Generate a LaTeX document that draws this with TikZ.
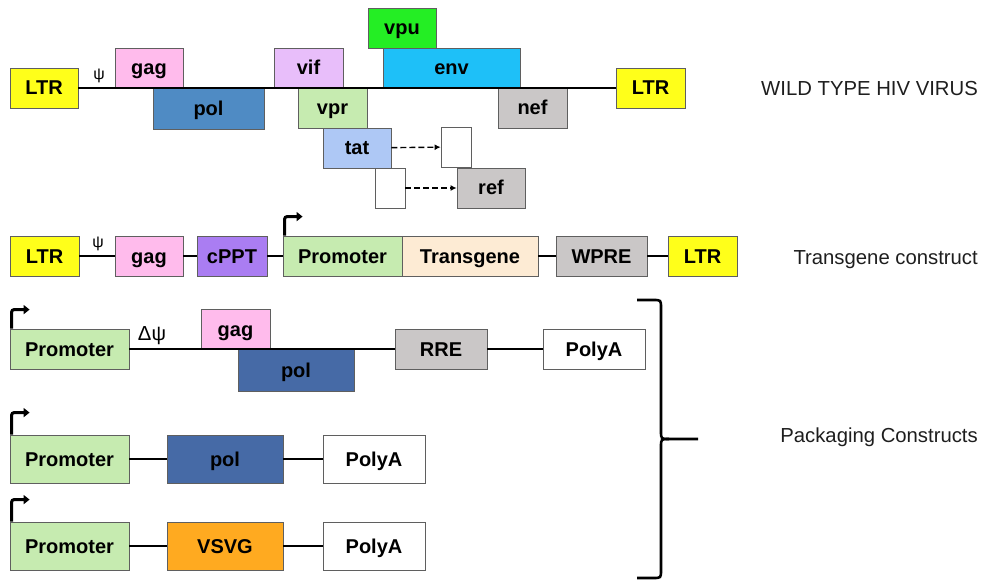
\documentclass[tikz,border=0pt]{standalone}
\usepackage{fontspec}
\setmainfont{Liberation Sans}
\usepackage{pgf,tikz}
\usetikzlibrary{arrows.meta}

\definecolor{ltryellow}{RGB}{255,255,26}
\definecolor{gagpink}{RGB}{255,187,236}
\definecolor{polblue}{RGB}{79,139,196}
\definecolor{poldark}{RGB}{70,106,166}
\definecolor{vifpurple}{RGB}{232,190,250}
\definecolor{lightgreen}{RGB}{198,235,176}
\definecolor{vpugreen}{RGB}{36,238,36}
\definecolor{envcyan}{RGB}{30,192,248}
\definecolor{greybox}{RGB}{202,199,199}
\definecolor{tatblue}{RGB}{174,200,245}
\definecolor{cpptpurple}{RGB}{170,125,242}
\definecolor{peach}{RGB}{253,235,212}
\definecolor{vsvgorange}{RGB}{255,170,32}
\definecolor{boxedge}{RGB}{95,95,95}
\definecolor{labgrey}{RGB}{30,30,30}

\newcommand{\boxfont}{\fontsize{20}{22}\selectfont\bfseries}
\newcommand{\labfont}{\fontsize{20.3}{22}\selectfont}

\begin{document}
\begin{tikzpicture}[x = 1pt, y = -1pt, anno/.style = {line width = 1.4pt, dash pattern = on 6pt off 3pt, -{Latex[length = 6pt, width = 6pt]}}]
    \useasboundingbox (0,0) rectangle (988,580);
    \tikzstyle{g}=[draw=boxedge,line width=.8pt,minimum width=68pt,minimum height=40pt,inner sep=0pt,text height=14pt,text depth=0pt,text=black,font=\boxfont]
    \tikzstyle{bb}=[line width=2.6pt,black]
    \tikzstyle{pr}=[line width=3pt,rounded corners=2.5pt,-{Triangle[length=6pt,width=9pt]}]
    \tikzstyle{lab}=[anchor=east,inner sep=0pt,text=labgrey,font=\labfont]

    % wild type virus
    \node[g,fill=ltryellow] (ltr1) at (44,88) {LTR};
    \node[g,fill=ltryellow,minimum width=69pt] (ltr2) at (650.5,88) {LTR};
    \node[g,fill=gagpink] (gag1) at (149,68) {gag};
    \node[g,fill=polblue,minimum width=111pt,minimum height=41pt] (pol1) at (208.5,108.5) {pol};
    \node[g,fill=vifpurple,minimum width=69pt] (vif) at (308.5,68) {vif};
    \node[g,fill=lightgreen,minimum width=69pt] (vpr) at (332.5,108) {vpr};
    \node[g,fill=vpugreen] (vpu) at (402,28) {vpu};
    \node[g,fill=envcyan,minimum width=137pt] (env) at (451.5,68) {env};
    \node[g,fill=greybox,minimum width=69pt] (nef) at (532.5,108) {nef};
    \node[g,fill=tatblue] (tat) at (357,148) {tat};
    \node[g,fill=white,minimum width=30pt] (tat') at (456,147) {};
    \node[g,fill=white,minimum width=30pt] (ref') at (390,188) {};
    \node[g,fill=greybox] (ref) at (491,188) {ref};
    \node[inner sep=0pt,font=\fontsize{16}{16}\selectfont] (psi1) at (99,76) {ψ};

    \draw [bb] (ltr1) to (ltr2);
    \draw [anno] (tat) to (tat');
    \draw [anno] (ref') to (ref);

    % transgene construct
    \node[g,fill=ltryellow,minimum width=69pt] (ltr3) at (44.5,256) {LTR};
    \node[g,fill=gagpink] (gag2) at (149,256) {gag};
    \node[g,fill=cpptpurple,minimum width=70pt] (cppt) at (232,256) {cPPT};
    \node[g,fill=lightgreen,minimum width=119pt] (prom1) at (342.5,256) {Promoter};
    \node[g,fill=peach,minimum width=136pt] (trans) at (470,256) {Transgene};
    \node[g,fill=greybox,minimum width=91pt] (wpre) at (601.5,256) {WPRE};
    \node[g,fill=ltryellow,minimum width=69pt] (ltr4) at (702.5,256) {LTR};
    \node[inner sep=0pt,font=\fontsize{16}{16}\selectfont] (psi2) at (98,244) {ψ};

    \draw [bb] (ltr3) to (gag2);
    \draw [bb] (gag2) to (cppt);
    \draw [bb] (cppt) to (prom1);
    \draw [bb] (trans) to (wpre);
    \draw [bb] (wpre) to (ltr4);
    \draw [pr] (prom1.north west) ++(2,0) -- ++(0,-19) -- ++(18,0);

    % packaging constructs
    \node[g,fill=lightgreen,minimum width=119pt] (prom2) at (69.5,349) {Promoter};
    \node[g,fill=gagpink,minimum width=69pt] (gag3) at (235.5,329) {gag};
    \node[g,fill=poldark,minimum width=116pt,minimum height=42pt] (pol2) at (296,370) {pol};
    \node[g,fill=greybox,minimum width=92pt] (rre) at (441,349) {RRE};
    \node[g,fill=white,minimum width=102pt] (polya1) at (594,349) {PolyA};
    \node[inner sep=0pt,font=\labfont] (dpsi) at (152,336) {Δψ};

    \draw [bb] (prom2) to (rre);
    \draw [bb] (rre) to (polya1);
    \draw [pr] (prom2.north west) ++(2,0) -- ++(0,-19) -- ++(18,0);

    \node[g,fill=lightgreen,minimum width=119pt,minimum height=48pt] (prom3) at (69.5,459) {Promoter};
    \node[g,fill=poldark,minimum width=116pt,minimum height=48pt] (pol3) at (225,459) {pol};
    \node[g,fill=white,minimum width=102pt,minimum height=48pt] (polya2) at (374,459) {PolyA};

    \draw [bb] (prom3) to (pol3);
    \draw [bb] (pol3) to (polya2);
    \draw [pr] (prom3.north west) ++(2,0) -- ++(0,-22) -- ++(18,0);

    \node[g,fill=lightgreen,minimum width=119pt,minimum height=48pt] (prom4) at (69.5,546) {Promoter};
    \node[g,fill=vsvgorange,minimum width=116pt,minimum height=48pt] (vsvg) at (225,546) {VSVG};
    \node[g,fill=white,minimum width=102pt,minimum height=48pt] (polya3) at (374,546) {PolyA};

    \draw [bb] (prom4) to (vsvg);
    \draw [bb] (vsvg) to (polya3);
    \draw [pr] (prom4.north west) ++(2,0) -- ++(0,-22) -- ++(18,0);

    % bracket
    \draw [line width=2.6pt] (637,300) -- (653,300) .. controls (661,300) .. (661,308) -- (661,431) .. controls (661,439) .. (669,439) -- (698,439);
    \draw [line width=2.6pt] (637,578) -- (653,578) .. controls (661,578) .. (661,570) -- (661,447) .. controls (661,439) .. (669,439);

    % labels
    \node[lab] (wt) at (978,89) {WILD TYPE HIV VIRUS};
    \node[lab] (tg) at (978,260) {Transgene construct};
    \node[lab] (pk) at (978,437) {Packaging Constructs};
\end{tikzpicture}
\end{document}
